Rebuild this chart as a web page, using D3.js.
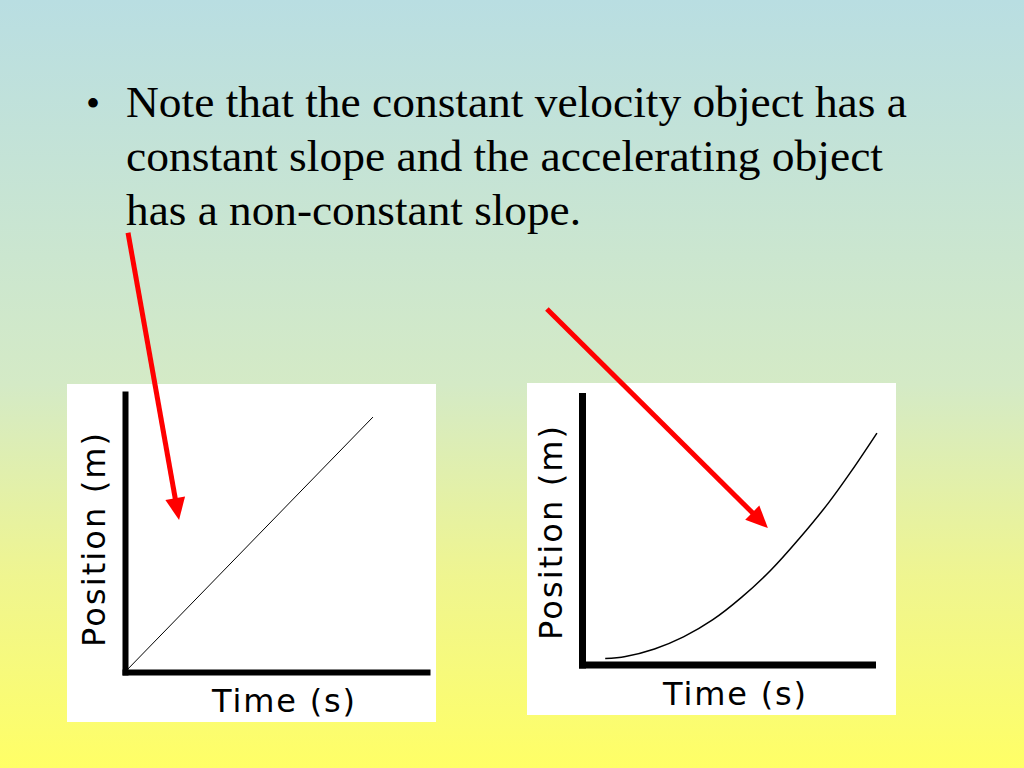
<!DOCTYPE html>
<html lang="en">
<head>
<meta charset="UTF-8">
<title>Constant vs accelerating slope</title>
<style>
  body, html { margin: 0; padding: 0; overflow: hidden; }
  svg { display: block; }
</style>
</head>
<body>
<svg id="slide" width="1024" height="768"></svg>
<script src="https://d3js.org/d3.v7.min.js"></script>
<script>
// -------- DATA ------------
const bulletLines = [
  "Note that the constant velocity object has a",
  "constant slope and the accelerating object",
  "has a non-constant slope."
]
const xLabel = "Time (s)"
const yLabel = "Position (m)"

// constant velocity (left graph)
const constTime = [0, 8.21]
const constPos = [0, 9.17]

// accelerating (right graph)
const accelTime = [0.8, 1.5, 2.5, 3.5, 4.5, 5.5, 6.5, 7.5, 8.5, 9.3, 10.17]
const accelPos  = [0.22, 0.3, 0.58, 1.03, 1.66, 2.5, 3.5, 4.7, 6.02, 7.22, 8.62]

// red arrows, in each graph's own units: [start t, start p, tip t, tip p]
const constArrow = [0.1, 15.8, 1.79, 5.47]
const accelArrow = [-1.21, 13.24, 6.41, 5.08]

const svg = d3.select('#slide')

// -------- BACKGROUND ------------
const grad = svg.append('defs').append('linearGradient')
  .attr('id', 'bg').attr('x1', 0).attr('y1', 0).attr('x2', 0).attr('y2', 1)
grad.selectAll('stop')
  .data([[0, '#b9dee2'], [0.5, '#d4eac6'], [0.75, '#eff590'], [1, '#ffff66']])
  .enter().append('stop')
  .attr('offset', d => d[0])
  .attr('stop-color', d => d[1])

svg.append('rect')
  .attr('width', 1024).attr('height', 768)
  .attr('fill', 'url(#bg)')

// -------- BULLET TEXT ------------
const lineWidths = [781, 757, 455]

svg.append('text')
  .attr('x', 86).attr('y', 117)
  .style('font-family', '"Liberation Serif", "Times New Roman", serif')
  .style('font-size', '40px')
  .text('\u2022')

svg.selectAll('.line')
  .data(bulletLines)
  .enter().append('text')
  .attr('class', 'line')
  .attr('x', 126)
  .attr('y', (d, i) => 117 + i * 54)
  .attr('textLength', (d, i) => lineWidths[i])
  .attr('lengthAdjust', 'spacingAndGlyphs')
  .style('font-family', '"Liberation Serif", "Times New Roman", serif')
  .style('font-size', '44px')
  .text(d => d)

// -------- GRAPHS ------------
function drawGraph(opts) {
  const x = d3.scaleLinear().domain([0, 10]).range(opts.xRange)
  const y = d3.scaleLinear().domain([0, 10]).range(opts.yRange)

  const g = svg.append('g')

  // white panel
  g.append('rect')
    .attr('x', opts.box[0]).attr('y', opts.box[1])
    .attr('width', opts.box[2]).attr('height', opts.box[3])
    .attr('fill', 'white')

  // axes: just thick domain lines, no ticks
  const bottomAxis = d3.axisBottom(x).tickValues([]).tickSizeOuter(0)
  const leftAxis = d3.axisLeft(y).tickValues([]).tickSizeOuter(0)

  g.append('g')
    .attr('transform', `translate(0, ${y(0)})`)
    .call(bottomAxis)
  g.append('g')
    .attr('transform', `translate(${x(0)}, 0)`)
    .call(leftAxis)
  g.selectAll('.domain')
    .attr('stroke', 'black')
    .attr('stroke-width', opts.axisWidth)
    .attr('stroke-linecap', 'square')

  // the data line
  const pts = opts.time.map((t, i) => [t, opts.pos[i]])
  const line = d3.line()
    .x(d => x(d[0]))
    .y(d => y(d[1]))
    .curve(d3.curveCatmullRom)
  g.append('path')
    .datum(pts)
    .attr('d', line)
    .attr('fill', 'none')
    .attr('stroke', 'black')
    .attr('stroke-width', opts.lineWidth)

  // axis labels
  g.append('text')
    .attr('x', opts.xLabelPos[0]).attr('y', opts.xLabelPos[1])
    .attr('textLength', 143)
    .attr('lengthAdjust', 'spacing')
    .style('font-family', '"DejaVu Sans", Verdana, sans-serif')
    .style('font-size', '32px')
    .text(xLabel)

  g.append('text')
    .attr('transform', `translate(${opts.yLabelPos[0]}, ${opts.yLabelPos[1]}) rotate(-90)`)
    .attr('textLength', 214)
    .attr('lengthAdjust', 'spacing')
    .style('font-family', '"DejaVu Sans", Verdana, sans-serif')
    .style('font-size', '32px')
    .text(yLabel)

  return { x, y }
}

function drawArrow(sc, a) {
  const x0 = sc.x(a[0]), y0 = sc.y(a[1])
  const x1 = sc.x(a[2]), y1 = sc.y(a[3])
  const ang = Math.atan2(y1 - y0, x1 - x0)
  const headLen = 22, headHalf = 10
  const bx = x1 - headLen * Math.cos(ang)
  const by = y1 - headLen * Math.sin(ang)
  svg.append('line')
    .attr('x1', x0).attr('y1', y0)
    .attr('x2', bx + 2 * Math.cos(ang)).attr('y2', by + 2 * Math.sin(ang))
    .attr('stroke', '#ff0000')
    .attr('stroke-width', 5)
  svg.append('polygon')
    .attr('points', [
      [x1, y1],
      [bx + headHalf * Math.sin(ang), by - headHalf * Math.cos(ang)],
      [bx - headHalf * Math.sin(ang), by + headHalf * Math.cos(ang)]
    ].map(p => p.join(',')).join(' '))
    .attr('fill', '#ff0000')
}

const leftScales = drawGraph({
  box: [67, 384, 369, 338],
  xRange: [125, 427],
  yRange: [672, 394],
  axisWidth: 6,
  lineWidth: 1,
  time: constTime,
  pos: constPos,
  xLabelPos: [212, 712],
  yLabelPos: [105, 647]
})

const rightScales = drawGraph({
  box: [527, 383, 369, 332],
  xRange: [582, 872],
  yRange: [664.5, 396],
  axisWidth: 7,
  lineWidth: 1.5,
  time: accelTime,
  pos: accelPos,
  xLabelPos: [663, 705],
  yLabelPos: [562, 640]
})

drawArrow(leftScales, constArrow)
drawArrow(rightScales, accelArrow)
</script>
</body>
</html>
